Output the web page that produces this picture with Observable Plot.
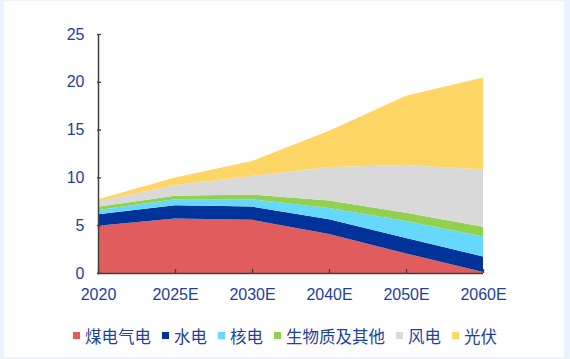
<!DOCTYPE html>
<html><head><meta charset="utf-8">
<script src="https://cdn.jsdelivr.net/npm/d3@7"></script>
<script src="https://cdn.jsdelivr.net/npm/@observablehq/plot@0.6"></script>
<style>
body{margin:0;width:570px;height:359px;background:#eaf4fe;position:relative;overflow:hidden;font-family:"Liberation Sans",Arial,sans-serif}
#panel{position:absolute;left:4px;top:1px;width:560px;height:356px;background:#fff}
#chart{position:absolute;left:0;top:0}
#legend{position:absolute;left:73px;top:326px;display:flex;align-items:center;font-family:"Noto Sans CJK SC",sans-serif;font-size:16.5px;color:#1e419e;white-space:nowrap;line-height:20px}
.item{display:flex;align-items:center;margin-right:11px}
.sw{width:7px;height:7px;margin-right:5px;margin-top:-2px}
</style></head>
<body>
<div id="panel"></div>
<div id="chart"></div>
<div id="legend"></div>
<script>
const years = ["2020","2025E","2030E","2040E","2050E","2060E"];
const series = ["煤电气电","水电","核电","生物质及其他","风电","光伏"];
const colors = ["#e15c5c","#00339a","#66d8fc","#92d050","#d9d9d9","#fdd666"];
const coal    = [4.94, 5.70, 5.56, 4.08, 2.05, 0.10];
const hydro   = [1.21, 1.39, 1.39, 1.55, 1.60, 1.63];
const nuclear = [0.45, 0.63, 0.77, 1.17, 1.78, 2.08];
const bio     = [0.32, 0.35, 0.48, 0.78, 0.86, 1.03];
const wind    = [0.56, 1.14, 1.95, 3.50, 5.01, 5.99];
const solar   = [0.24, 0.79, 1.57, 3.80, 7.25, 9.62];
const yTicks  = [0, 5, 10, 15, 20, 25];

const values = [coal, hydro, nuclear, bio, wind, solar];
const rows = years.flatMap((yr, i) => series.map((s, j) => ({year: yr, type: s, value: values[j][i]})));

const chart = Plot.plot({
  width: 570, height: 320,
  marginLeft: 97, marginRight: 87, marginTop: 34, marginBottom: 47,
  x: {type: "point", domain: years, padding: 0, label: null},
  y: {domain: [yTicks[0], yTicks[yTicks.length - 1]], label: null},
  color: {domain: series, range: colors},
  style: {fontFamily: "'Liberation Sans', Arial, sans-serif", fontSize: "16px", color: "#1e419e", background: "transparent", overflow: "visible"},
  marks: [
    Plot.areaY(rows, {x: "year", y: "value", z: "type", fill: "type", order: series}),
    Plot.ruleY([yTicks[0]], {stroke: "#404040", strokeWidth: 1.5}),
    Plot.ruleX([years[0]], {stroke: "#404040", strokeWidth: 1.5}),
    Plot.axisY(yTicks, {tickSize: -4, tickPadding: 17, stroke: "#404040", strokeWidth: 1.3, label: null}),
    Plot.axisX(years, {tickSize: -4, tickPadding: 19, stroke: "#404040", strokeWidth: 1.3, label: null})
  ]
});
document.getElementById("chart").appendChild(chart);

const legend = document.getElementById("legend");
series.forEach((s, i) => {
  const it = document.createElement("div");
  it.className = "item";
  const sw = document.createElement("div");
  sw.className = "sw";
  sw.style.background = colors[i];
  const t = document.createElement("span");
  t.textContent = s;
  it.appendChild(sw); it.appendChild(t);
  legend.appendChild(it);
});
</script>
</body></html>
